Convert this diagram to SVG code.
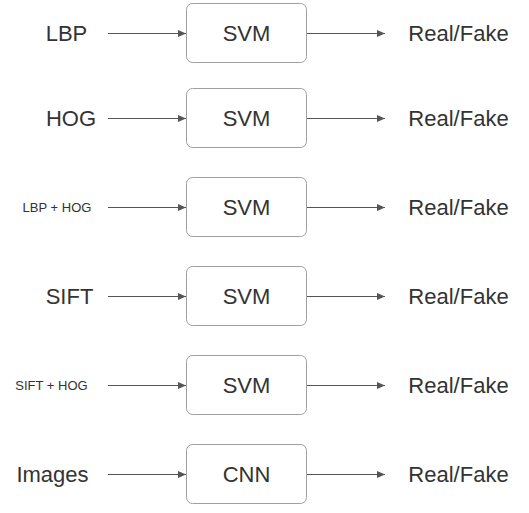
<svg xmlns="http://www.w3.org/2000/svg" width="529" height="513" viewBox="0 0 529 513">
<style>
.box{fill:#fff;stroke:#a0a0a0;stroke-width:1}
.t{font-family:"Liberation Sans",Arial,sans-serif;fill:#333;text-anchor:middle;dominant-baseline:central}
.big{font-size:22px}
.sm{font-size:13px}
.c{stroke:#555;stroke-width:1;fill:none;marker-end:url(#ah)}
</style>
<defs>
<marker id="ah" markerWidth="8" markerHeight="8" refX="8" refY="4" orient="auto" markerUnits="userSpaceOnUse">
<path d="M0,0.5 L8,4 L0,7.5 Z" fill="#555"/>
</marker>
</defs>
<rect width="529" height="513" fill="#fff"/>
<g id="connectors">
<line class="c" x1="108" y1="33.5" x2="186" y2="33.5"/>
<line class="c" x1="306" y1="33.5" x2="385" y2="33.5"/>
<line class="c" x1="108" y1="118.5" x2="186" y2="118.5"/>
<line class="c" x1="306" y1="118.5" x2="385" y2="118.5"/>
<line class="c" x1="108" y1="207.5" x2="186" y2="207.5"/>
<line class="c" x1="306" y1="207.5" x2="385" y2="207.5"/>
<line class="c" x1="108" y1="296.5" x2="186" y2="296.5"/>
<line class="c" x1="306" y1="296.5" x2="385" y2="296.5"/>
<line class="c" x1="108" y1="385.5" x2="186" y2="385.5"/>
<line class="c" x1="306" y1="385.5" x2="385" y2="385.5"/>
<line class="c" x1="108" y1="474.5" x2="186" y2="474.5"/>
<line class="c" x1="306" y1="474.5" x2="385" y2="474.5"/>
</g>
<g id="in1"><text class="t big" x="66.5" y="33.5">LBP</text></g>
<g id="in2"><text class="t big" x="71" y="118.5">HOG</text></g>
<g id="in3"><text class="t sm" x="57" y="207.5">LBP + HOG</text></g>
<g id="in4"><text class="t big" x="69.5" y="296.5">SIFT</text></g>
<g id="in5"><text class="t sm" x="51.5" y="385.5">SIFT + HOG</text></g>
<g id="in6"><text class="t big" x="52.5" y="474.5">Images</text></g>
<g id="m1"><rect class="box" x="186.5" y="3.5" width="120" height="59" rx="6"/><text class="t big" x="246.5" y="33.5">SVM</text></g>
<g id="m2"><rect class="box" x="186.5" y="88.5" width="120" height="59" rx="6"/><text class="t big" x="246.5" y="118.5">SVM</text></g>
<g id="m3"><rect class="box" x="186.5" y="177.5" width="120" height="59" rx="6"/><text class="t big" x="246.5" y="207.5">SVM</text></g>
<g id="m4"><rect class="box" x="186.5" y="266.5" width="120" height="59" rx="6"/><text class="t big" x="246.5" y="296.5">SVM</text></g>
<g id="m5"><rect class="box" x="186.5" y="355.5" width="120" height="59" rx="6"/><text class="t big" x="246.5" y="385.5">SVM</text></g>
<g id="m6"><rect class="box" x="186.5" y="444.5" width="120" height="59" rx="6"/><text class="t big" x="246.5" y="474.5">CNN</text></g>
<g id="o1"><text class="t big" x="458.5" y="33.5">Real/Fake</text></g>
<g id="o2"><text class="t big" x="458.5" y="118.5">Real/Fake</text></g>
<g id="o3"><text class="t big" x="458.5" y="207.5">Real/Fake</text></g>
<g id="o4"><text class="t big" x="458.5" y="296.5">Real/Fake</text></g>
<g id="o5"><text class="t big" x="458.5" y="385.5">Real/Fake</text></g>
<g id="o6"><text class="t big" x="458.5" y="474.5">Real/Fake</text></g>
</svg>
